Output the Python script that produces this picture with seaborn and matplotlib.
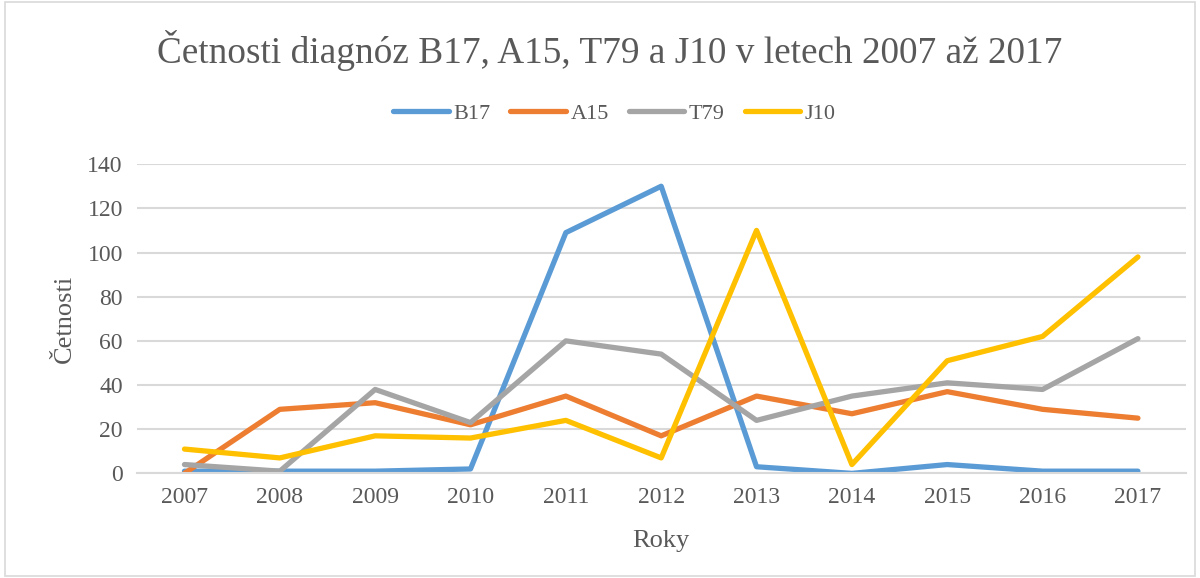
import numpy as np
import pandas as pd
import matplotlib
matplotlib.use("Agg")
import matplotlib.pyplot as plt
import seaborn as sns

# data
years = ["2007", "2008", "2009", "2010", "2011", "2012", "2013", "2014", "2015", "2016", "2017"]
b17 = [1, 1, 1, 2, 109, 130, 3, 0, 4, 1, 1]
a15 = [0, 29, 32, 22, 35, 17, 35, 27, 37, 29, 25]
t79 = [4, 1, 38, 23, 60, 54, 24, 35, 41, 38, 61]
j10 = [11, 7, 17, 16, 24, 7, 110, 4, 51, 62, 98]
series_names = ["B17", "A15", "T79", "J10"]
colors = ["#5B9BD5", "#ED7D31", "#A5A5A5", "#FFC000"]

df = pd.DataFrame({"Roky": years, "B17": b17, "A15": a15, "T79": t79, "J10": j10})
long_df = df.melt(id_vars="Roky", var_name="Diagnóza", value_name="Četnosti")

sns.set_theme(style="white")
plt.rcParams["font.family"] = ["Liberation Serif", "DejaVu Serif"]
text_color = "#595959"
grid_color = "#D9D9D9"

fig = plt.figure(figsize=(12, 5.78), dpi=100)
ax = fig.add_axes([0.114, 0.181, 0.874, 0.535])

sns.lineplot(data=long_df, x="Roky", y="Četnosti", hue="Diagnóza",
             hue_order=series_names, palette=colors, linewidth=3.8,
             sort=False, ax=ax, legend=False)
for line in ax.lines:
    line.set_solid_capstyle("round")
    line.set_solid_joinstyle("round")

ax.set_xlim(-0.5, len(years) - 0.5)
ax.set_ylim(0, 140)
ax.set_yticks(np.arange(0, 141, 20))
ax.yaxis.grid(True, color=grid_color, linewidth=1.5)
ax.set_axisbelow(True)
for side in ["top", "right", "left"]:
    ax.spines[side].set_visible(False)
ax.spines["bottom"].set_color(grid_color)
ax.spines["bottom"].set_linewidth(1.5)
ax.tick_params(axis="both", length=0, labelsize=17, colors=text_color, pad=10)

ax.set_xlabel("Roky", fontsize=19, color=text_color, labelpad=16)
ax.set_ylabel("Četnosti", fontsize=19, color=text_color, labelpad=8)

fig.text(0.508, 0.913, "Četnosti diagnóz B17, A15, T79 a J10 v letech 2007 až 2017",
         ha="center", va="center", fontsize=26.8, color=text_color)

handles = [plt.Line2D([], [], color=c, linewidth=3.8, solid_capstyle="round") for c in colors]
fig.legend(handles, series_names, loc="center", bbox_to_anchor=(0.512, 0.803), ncol=4,
           frameon=False, fontsize=16, labelcolor=text_color, handlelength=2.5,
           handletextpad=0.2, columnspacing=0.9)

# light chart border like the original
fig.patches.append(plt.Rectangle((0.004, 0.004), 0.992, 0.992, transform=fig.transFigure,
                                 fill=False, edgecolor=grid_color, linewidth=1.2))

fig.savefig("out.png", dpi=100)
